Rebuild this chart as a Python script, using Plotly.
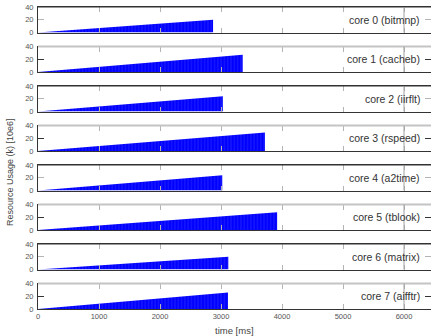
import plotly.graph_objects as go

# Per-core benchmark runs: finish time [ms] and resource usage reached at the end [10e6]
cores = ["core 0 (bitmnp)", "core 1 (cacheb)", "core 2 (iirflt)", "core 3 (rspeed)",
         "core 4 (a2time)", "core 5 (tblook)", "core 6 (matrix)", "core 7 (aifftr)"]
end_time = [2870, 3355, 3030, 3720, 3020, 3920, 3120, 3115]
end_usage = [20, 27, 24, 29, 24, 28, 20, 26]

x_ticks = [0, 1000, 2000, 3000, 4000, 5000, 6000]
y_ticks = [0, 20, 40]
marker_time = 6000

W, H = 431, 336
m_l, m_r, m_t, m_b = 38, 0, 7, 27
plot_h = H - m_t - m_b
panel_h, panel_step = 25.5, 39.5
x_max = (W - m_l - m_r) / 61.0 * 1000

DARK = "#333333"
GRAY = "#b4b4b4"
FONT = "Liberation Sans, Arial, sans-serif"

fig = go.Figure()
layout = dict(
    width=W, height=H,
    margin=dict(l=m_l, r=m_r, t=m_t, b=m_b),
    paper_bgcolor="white", plot_bgcolor="white",
    showlegend=False,
    font=dict(family=FONT, size=8, color="#555555"),
)
shapes, annotations = [], []

n = len(cores)
for i in range(n):
    k = i + 1
    xa = "x" if k == 1 else f"x{k}"
    ya = "y" if k == 1 else f"y{k}"
    top_px = m_t + panel_step * i
    bot_px = top_px + panel_h
    dom = [(H - m_b - bot_px) / plot_h, (H - m_b - top_px) / plot_h]

    fig.add_trace(go.Scatter(
        x=[0, end_time[i], end_time[i], 0],
        y=[0, end_usage[i], 0, 0],
        mode="lines", line=dict(width=0, color="#0000ff"),
        fill="toself", fillcolor="#0000ff",
        fillpattern=dict(shape="|", size=3.3, solidity=0.18,
                         fgcolor="#6a6aff", bgcolor="#0000ff"),
        xaxis=xa, yaxis=ya, hoverinfo="skip",
    ))

    last = (i == n - 1)
    layout["xaxis" if k == 1 else f"xaxis{k}"] = dict(
        domain=[0, 1], range=[0, x_max], anchor=ya,
        matches=None if k == 1 else "x",
        tickvals=x_ticks, ticks="inside", ticklen=5, tickcolor=GRAY, tickwidth=1,
        showticklabels=last, tickfont=dict(size=7.5, color="#555555"),
        showline=True, linecolor=DARK, linewidth=1, mirror="ticks",
        showgrid=False, zeroline=False,
    )
    layout["yaxis" if k == 1 else f"yaxis{k}"] = dict(
        domain=dom, range=[0, 40], anchor=xa,
        tickvals=y_ticks, ticks="inside", ticklen=6,
        tickcolor=GRAY if i % 2 == 0 else DARK, tickwidth=1,
        tickfont=dict(size=7.5, color="#555555"), ticklabelstandoff=2,
        showline=True, linecolor=DARK, linewidth=1, mirror="ticks",
        showgrid=False, zeroline=False,
    )

    # top border: alternates dark / light gray
    shapes.append(dict(type="line", xref=f"{xa} domain", yref=f"{ya} domain",
                       x0=0, x1=1, y0=1, y1=1,
                       line=dict(color=DARK if i % 2 == 0 else "#c4c4c4",
                                 width=1 if i % 2 == 0 else 2)))
    # marker line at 6000 ms
    shapes.append(dict(type="line", xref=xa, yref=f"{ya} domain",
                       x0=marker_time, x1=marker_time, y0=0, y1=1,
                       line=dict(color="#a0a0a0", width=1)))

    annotations.append(dict(
        text=cores[i], xref=f"{xa} domain", yref=f"{ya} domain",
        x=(422 - m_l) / (W - m_l - m_r), y=0.5, xanchor="right", yanchor="middle",
        showarrow=False, font=dict(size=10.5, color="#333333", family=FONT),
    ))

annotations.append(dict(
    text="Resource Usage (k) [10e6]", xref="paper", yref="paper",
    x=-(m_l - 10) / (W - m_l - m_r), y=(H - m_b - 172) / plot_h,
    xanchor="center", yanchor="middle", textangle=-90, showarrow=False,
    font=dict(size=9, color="#444444", family=FONT),
))
annotations.append(dict(
    text="time [ms]", xref="paper", yref="paper",
    x=0.5, y=-(330 - (H - m_b)) / plot_h,
    xanchor="center", yanchor="middle", showarrow=False,
    font=dict(size=9.5, color="#444444", family=FONT),
))

layout["shapes"] = shapes
layout["annotations"] = annotations
fig.update_layout(**layout)
fig.write_html("out.html")
